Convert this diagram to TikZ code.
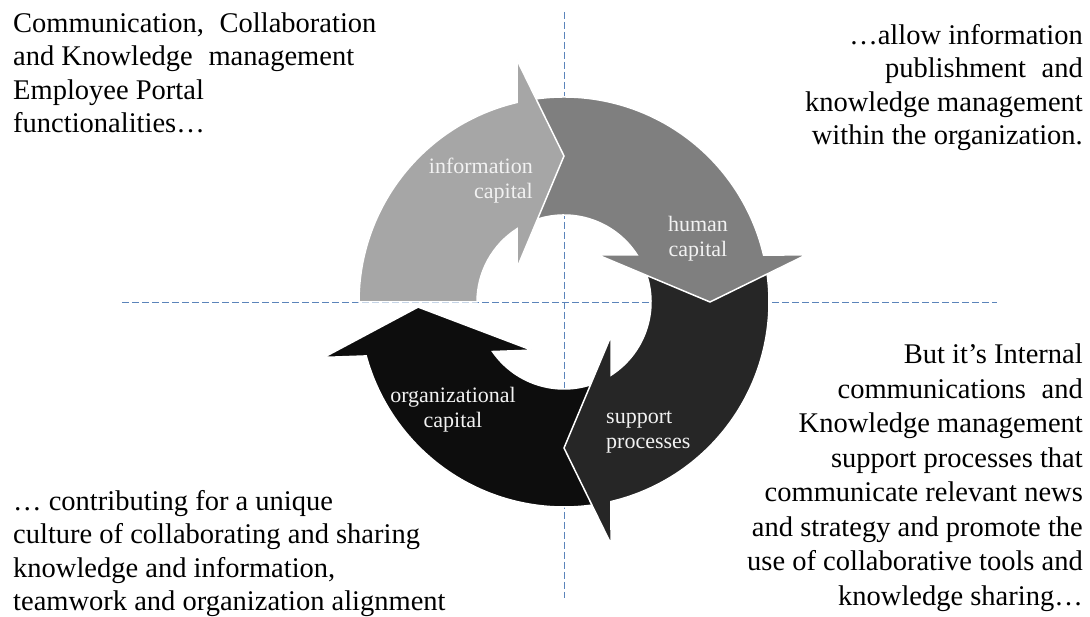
\documentclass[tikz,border=0pt]{standalone}
\usepackage{fontspec}
\setmainfont{Liberation Serif}
\usetikzlibrary{calc}
\definecolor{infocol}{HTML}{A6A6A6}
\definecolor{humancol}{HTML}{7F7F7F}
\definecolor{supportcol}{HTML}{262626}
\definecolor{orgcol}{HTML}{0D0D0D}
\definecolor{guidecol}{HTML}{5B84BA}
\definecolor{labelcol}{HTML}{F2F2F2}
% #1 start angle, #2 tip angle, #3 colour
\newcommand\cyclearrow[3]{%
  \path[arrowshape, fill=#3] ($(C)+(#1:205)$) arc[start angle=#1, end angle=#2+13.25, radius=205]
    -- ($(C)+(#2:242)+(#2+90:47)$) -- ($(C)+(#2:146)$) -- ($(C)+(#2:34)+(#2+90:47)$)
    -- ($(C)+(#2+32.7:87)$) arc[start angle=#2+32.7, end angle=#1, radius=87] -- cycle;}
\tikzset{
  arrowshape/.style={draw=white, line width=1.5pt, line join=miter},
  guide/.style={draw=guidecol, line width=1pt, dash pattern=on 7pt off 3pt},
  sidetext/.style={font=\fontsize{28.5}{33.5}\selectfont, inner sep=0pt, text=black},
  innerlabel/.style={font=\fontsize{22}{25}\selectfont, inner sep=0pt, text=labelcol},
}
\begin{document}
\begin{tikzpicture}[x=1pt, y=1pt]
\useasboundingbox (0,0) rectangle (1090,617);
\fill[white] (0,0) rectangle (1090,617);
\coordinate (C) at (564,315);
\coordinate (vtop) at (564,605);
\coordinate (vbot) at (564,19);
\coordinate (hleft) at (122,314);
\coordinate (hright) at (997,314);
\draw[guide] (vtop) -- (vbot);
\draw[guide] (hleft) -- (hright);

\cyclearrow{-66}{-178}{orgcol}
\cyclearrow{24}{-90}{supportcol}
\cyclearrow{114}{0}{humancol}
\cyclearrow{180}{90}{infocol}

% anchors refer to the baseline of the last line
\node[innerlabel, anchor=base east, align=right] (infolabel) at (533,418) {information\\capital};
\node[innerlabel, anchor=base, align=center] (humanlabel) at (698,360) {human\\capital};
\node[innerlabel, anchor=base, align=center] (orglabel) at (453,189) {organizational\\capital};
\node[innerlabel, anchor=base west, align=left] (supportlabel) at (606,168) {support\\processes};

\node[sidetext, anchor=base west, align=left] (tl) at (13,484)
  {Communication,\hspace{0.3em} Collaboration\\and Knowledge\hspace{0.3em} management\\Employee Portal\\functionalities…};
\node[sidetext, anchor=base east, align=right] (tr) at (1083,472)
  {…allow information\\publishment\hspace{0.3em} and\\knowledge management\\within the organization.};
\node[sidetext, anchor=base west, align=left] (bl) at (13,6)
  {… contributing for a unique\\culture of collaborating and sharing\\knowledge and information,\\teamwork and organization alignment};
\node[sidetext, font=\fontsize{28.5}{34.5}\selectfont, anchor=base east, align=right] (br) at (1083,11.5)
  {But it’s Internal\\communications\hspace{0.3em} and\\Knowledge management\\support processes that\\communicate relevant news\\and strategy and promote the\\use of collaborative tools and\\knowledge sharing…};
\end{tikzpicture}
\end{document}
